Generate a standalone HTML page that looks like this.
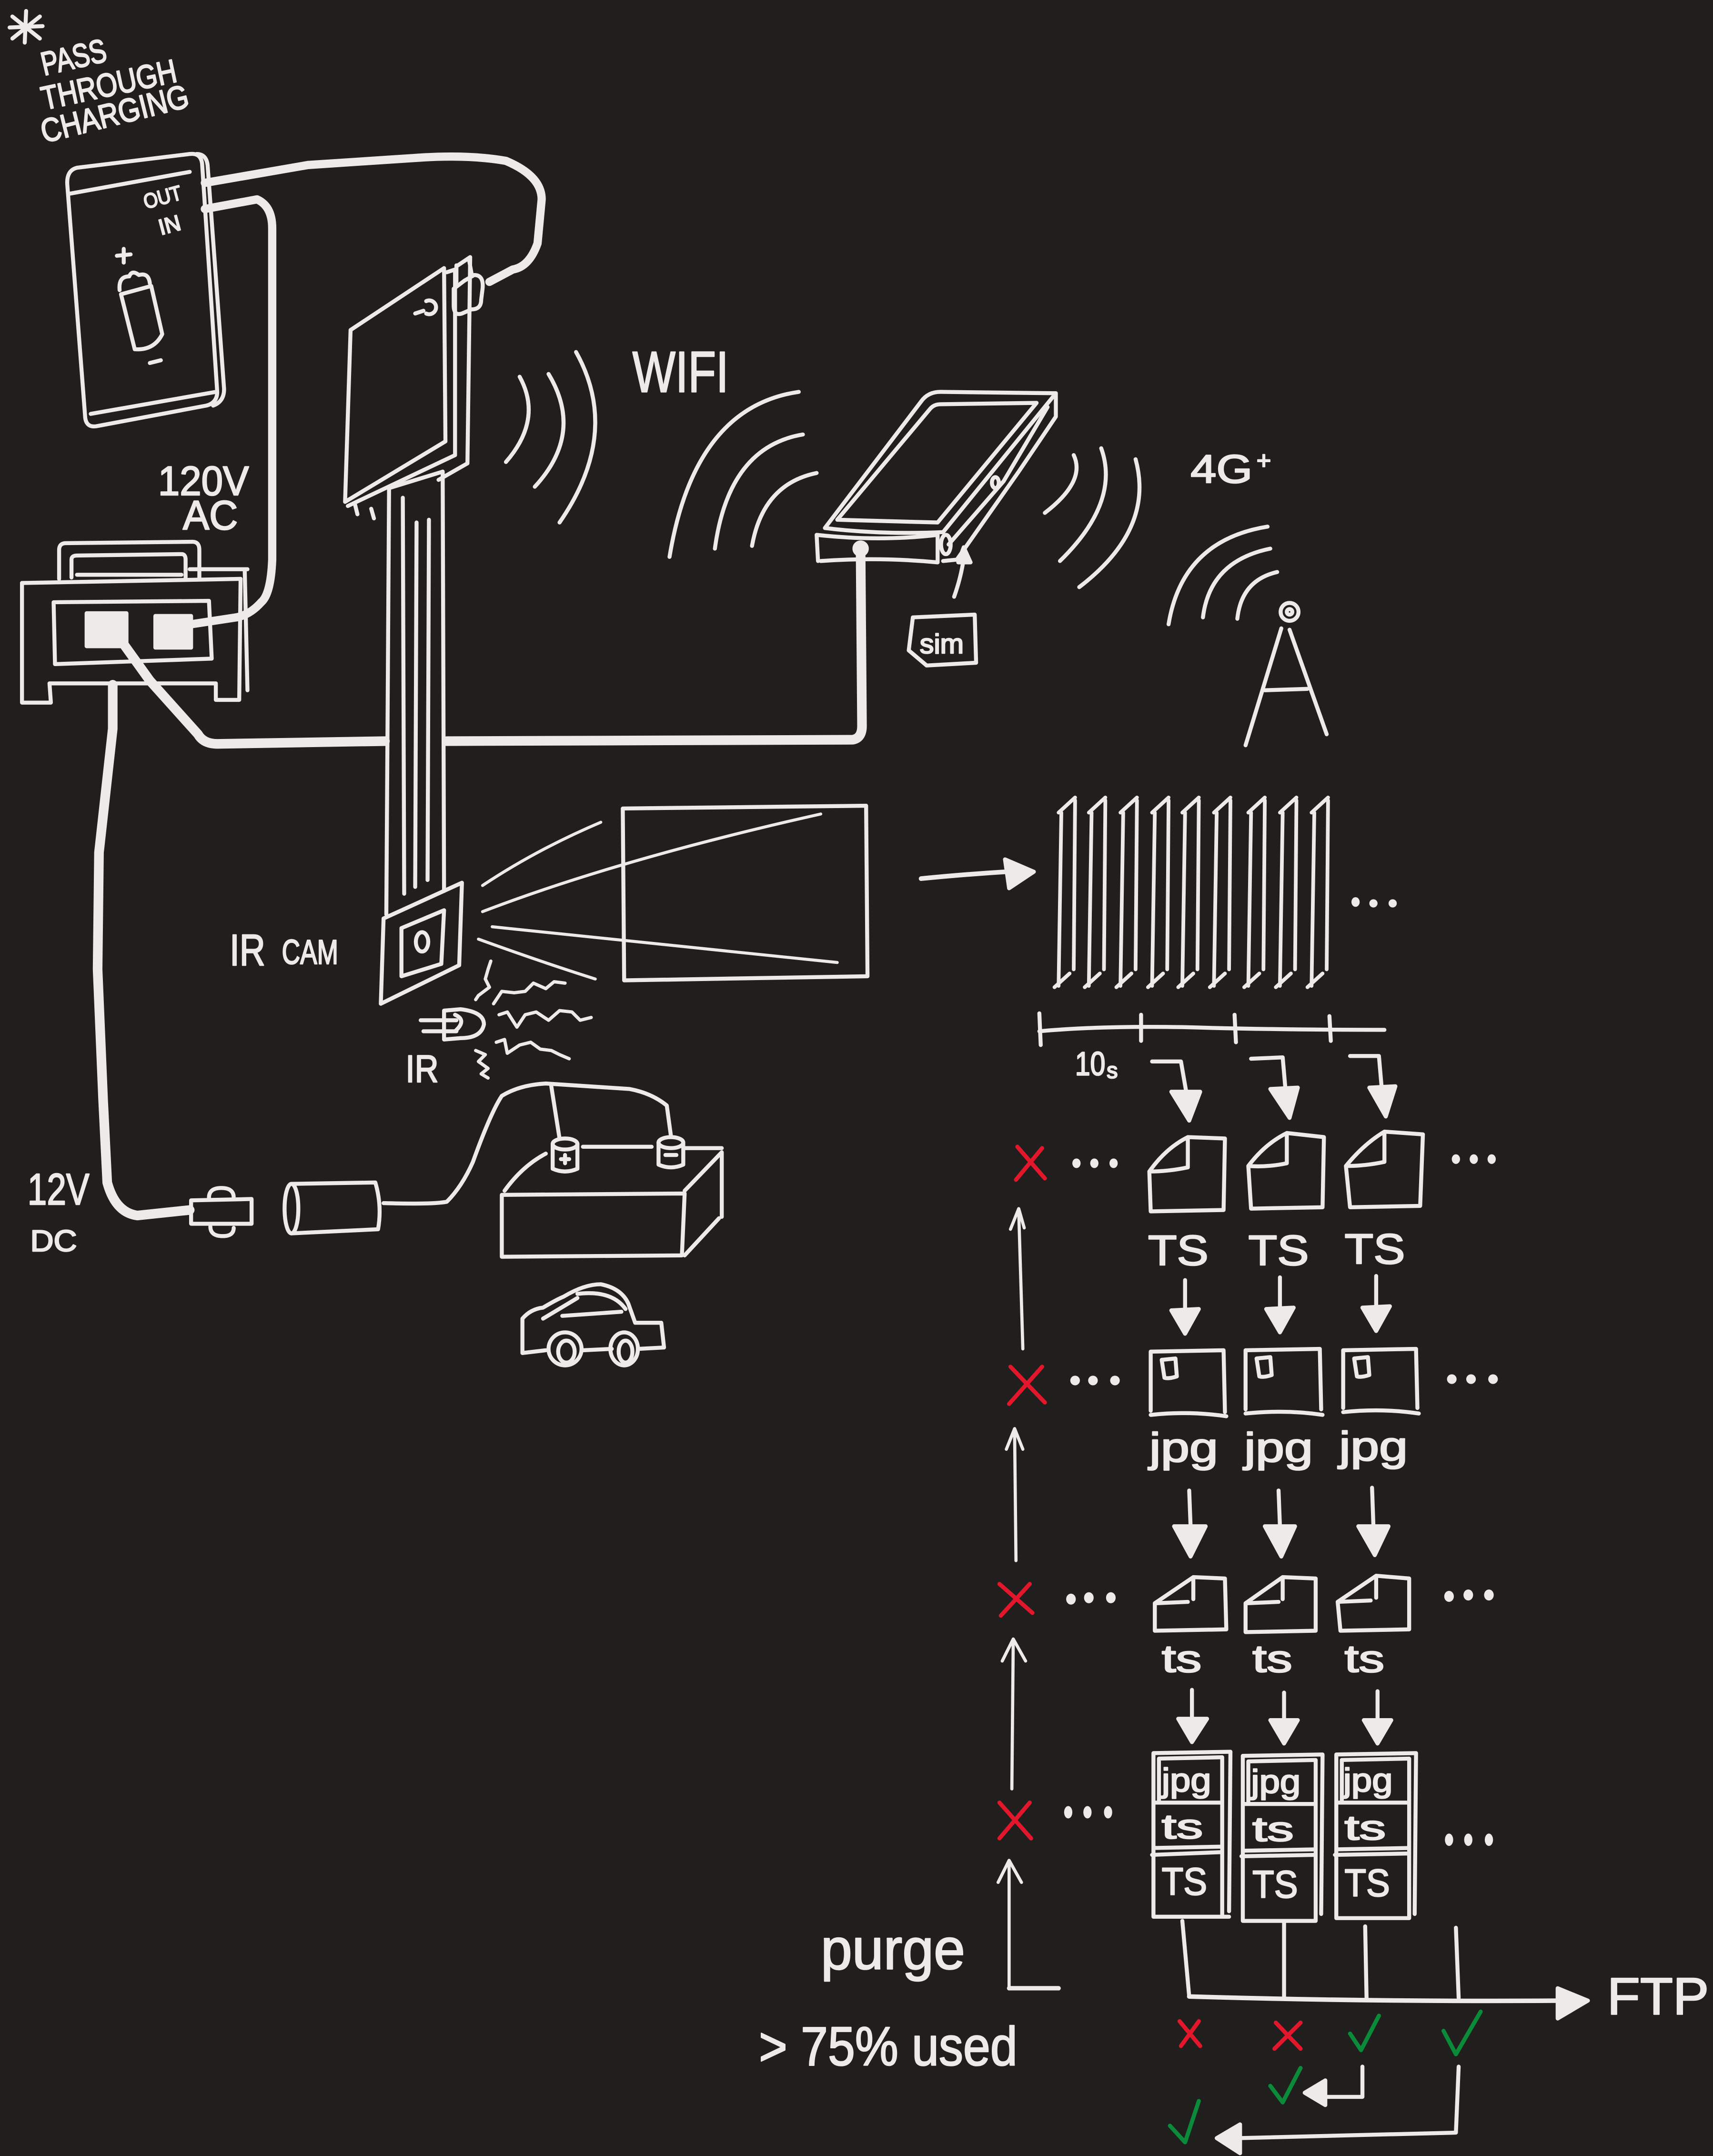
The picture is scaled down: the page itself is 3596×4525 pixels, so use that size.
<!DOCTYPE html>
<html><head><meta charset="utf-8"><style>
html,body{margin:0;padding:0;background:#201f1d;}
svg{display:block}
text{font-family:"Liberation Sans",sans-serif;fill:#ecebe7;stroke:#ecebe7;stroke-width:0.9;stroke-linejoin:round;}
</style></head><body>
<svg width="3596" height="4525" viewBox="0 0 1246 1568" preserveAspectRatio="none" xmlns="http://www.w3.org/2000/svg">
<rect width="1246" height="1568" fill="#201f1d"/>
<g fill="none" stroke="#ecebe7" stroke-width="2.9" stroke-linecap="round" stroke-linejoin="round">

<!-- asterisk -->
<path d="M19,8 L18,31 M9,12 L29,28 M29,12 L9,28 M7,20 L31,19"/>

<!-- power bank -->
<path d="M56,122 L138,112 Q146,111 147,119 L158,285 Q158,293 150,295 L70,310 Q63,311 62,304 L49,135 Q48,124 56,122 Z"/>
<path d="M143,112 Q150,112 151,120 L163,283 Q163,292 155,295"/>
<path d="M50,141 L138,125"/>
<path d="M66,301 L157,285"/>
<path d="M85,186 L95,185 M90,181 L90,191"/>
<path d="M88,214 L110,208 L118,243 Q112,255 98,254 Z"/>
<path d="M87,211 Q86,201 94,201 Q96,196 101,200 Q108,198 109,206"/>
<path d="M109,264 L117,262"/>

<!-- cables -->
<g stroke-width="6">
<path d="M149,133 L224,120 L300,115 Q340,112 368,117 Q394,128 394,145 L391,177 Q385,194 373,196 L356,205"/>
<path d="M149,152 L187,145 Q198,150 198,166 L198,407 Q197,432 190,438 Q182,447 172,449 L139,454"/>
</g>
<g stroke-width="7">
<path d="M86,463 L109,495 L144,534 Q148,541 158,541 L280,539"/>
<path d="M325,539 L620,538 Q627,537 627,528 L626,402"/>
<path d="M82,498 L82,530 L72,620 L71,705 L75,800 L78,860 Q84,882 100,884 L138,880"/>
</g>

<!-- power strip -->
<path d="M16,424 L175,421"/>
<path d="M16,424 L16,511 L37,511 L36,497 L157,497 L157,509 L174,509 L175,421"/>
<path d="M178,414 L180,502"/>
<path d="M138,414 L180,414"/>
<path d="M43,421 L43,400 Q43,395 48,395 L140,394 Q145,394 145,400 L145,421"/>
<path d="M52,420 L52,407 Q52,404 56,404 L132,403 Q135,403 135,407 L135,420"/>
<path d="M56,418 L132,418"/>
<path d="M39,438 L152,437 L154,479 L40,483 Z"/>
<rect x="63" y="446" width="29" height="24" fill="#ecebe7"/>
<rect x="113" y="448" width="26" height="23" fill="#ecebe7"/>

<!-- pi board -->
<path d="M255,240 L323,195 L324,321 L251,365 Z"/>
<path d="M325,198 L331,196 L331,331 L253,368"/>
<path d="M333,193 L342,187 L340,337 L319,349"/>
<path d="M258,366 L260,374 M270,370 L272,377"/>
<path d="M330,210 L338,204 L345,200 Q352,200 351,210 L350,218 Q350,225 343,225 L336,228 Q330,230 330,222 Z"/>
<path d="M332,193 L332,205 M341,188 L343,199"/>
<path d="M310,219 A5,5 0 1 1 310,228"/>
<path d="M302,228 L308,226"/>

<!-- ribbon -->
<path d="M283,355 L281,665"/>
<path d="M322,343 L323,648"/>
<path d="M293,362 L294,650 M303,380 L302,645 M312,378 L311,640"/>
<path d="M283,355 L322,343"/>

<!-- pi wifi arcs -->
<path d="M378,274 Q395,305 368,336"/>
<path d="M399,272 Q425,315 389,354"/>
<path d="M419,256 Q452,315 407,380"/>

<!-- router arcs -->
<path d="M581,285 Q505,296 487,405"/>
<path d="M584,316 Q530,325 520,399"/>
<path d="M594,344 Q555,352 547,397"/>

<!-- router -->
<path d="M600,384 L670,292 Q675,285 684,285 L768,286 L686,387 Q640,389 600,384 Z"/>
<path d="M609,378 L676,298 Q679,294 684,294 L754,293 L682,380 Z"/>
<path d="M594,389 Q640,394 682,389 M594,389 L595,408 M597,408 Q640,405 682,409 L682,389"/>
<path d="M768,286 L768,303 L741,343 L696,407 L686,408"/>
<path d="M762,296 L730,350 L690,396"/>
<ellipse cx="688" cy="396" rx="3.5" ry="7"/>
<ellipse cx="724" cy="351" rx="2.5" ry="4"/>
<circle cx="626" cy="399" r="4.5" fill="#ecebe7"/>
<path d="M694,434 Q699,420 701,406"/>
<polygon points="697,409 701,398 706,409" fill="#ecebe7"/>
<path d="M664,449 L709,447 L710,482 L674,484 L661,473 Z"/>

<!-- 4G arcs -->
<path d="M781,331 Q790,350 760,373"/>
<path d="M801,326 Q815,365 771,408"/>
<path d="M826,334 Q840,385 785,427"/>

<!-- tower -->
<path d="M922,383 Q860,393 850,454"/>
<path d="M924,399 Q880,408 875,449"/>
<path d="M929,416 Q903,422 900,450"/>
<circle cx="938" cy="445" r="6.5"/>
<circle cx="938" cy="445" r="2"/>
<path d="M932,457 L906,542 M938,458 L965,534 M920,502 L951,501"/>

<!-- camera -->
<path d="M279,668 L336,642 L334,702 L277,730 Z"/>
<path d="M292,675 L323,662 L321,701 L292,710 Z"/>
<ellipse cx="307" cy="685" rx="4.5" ry="7"/>
<g stroke-width="2.2">
<path d="M351,644 Q390,618 437,598"/>
<path d="M351,663 Q450,625 597,592"/>
<path d="M358,674 L609,700"/>
<path d="M348,683 Q395,700 433,712"/>
</g>
<path d="M453,588 L630,586 L631,710 L454,713 Z"/>

<!-- IR LED -->
<path d="M323,735 L335,734 Q352,736 352,745 Q350,755 335,755 L323,756 Z"/>
<path d="M306,742 L332,742 M308,750 L332,750"/>
<path d="M331,738 Q340,742 331,750"/>
<g stroke-width="2.4">
<path d="M357,699 L355,705 L353,712 L356,718 L348,724 L346,727"/>
<path d="M359,730 L365,721 L374,722 L382,721 L388,715 L397,719 L403,714 L411,715"/>
<path d="M363,738 L369,736 L376,747 L382,738 L390,736 L399,742 L407,735 L416,736 L422,742 L430,740"/>
<path d="M361,758 L367,756 L369,766 L378,760 L386,758 L393,763 L401,764 L407,767 L414,770"/>
<path d="M346,764 L353,767 L348,772 L355,777 L350,781 L355,784"/>
</g>

<!-- battery -->
<path d="M365,869 L498,868 L496,913 L365,914 Z"/>
<path d="M367,866 Q380,848 397,839"/>
<path d="M424,834 L474,834 M498,835 L525,835"/>
<path d="M525,838 L525,885 M498,866 L525,838 M498,913 L523,886"/>
<path d="M402,832 L402,850 Q411,854 420,850 L420,832"/>
<ellipse cx="411" cy="832" rx="9" ry="4"/>
<path d="M408,843 L414,843 M411,840 L411,846"/>
<path d="M479,831 L479,847 Q488,851 497,847 L497,831"/>
<ellipse cx="488" cy="831" rx="9" ry="4"/>
<path d="M484,840 L492,840"/>
<path d="M407,828 L401,790"/>
<path d="M397,788 L458,792 Q474,795 485,804 L488,826"/>
<path d="M397,788 Q378,789 365,797 Q357,809 344,845 Q336,863 325,874 Q315,876 279,875"/>
<!-- plug -->
<ellipse cx="212" cy="879" rx="5" ry="18"/>
<path d="M212,861 L273,860 Q278,877 275,894 L212,897"/>
<path d="M139,873 L183,872 L183,890 L139,890 Z"/>
<path d="M152,871 Q152,864 161,864 Q170,864 170,871"/>
<path d="M153,892 Q153,899 162,899 Q170,899 170,893"/>

<!-- car -->
<path d="M380,984 L380,959 Q386,952 395,951 Q405,945 410,943 Q425,934 437,934 Q452,937 457,948 L462,962 L481,962 L483,980 L464,981"/>
<path d="M397,982 L380,984"/>
<path d="M424,982 L445,981"/>
<path d="M395,959 L420,944 M409,957 L452,954 M420,941 Q445,938 455,952"/>
<ellipse cx="411" cy="981" rx="12" ry="12"/>
<ellipse cx="412" cy="983" rx="6" ry="8"/>
<ellipse cx="454" cy="981" rx="10" ry="12"/>
<ellipse cx="455" cy="983" rx="5" ry="8"/>

<!-- arrow to frames -->
<path d="M670,639 Q700,636 732,634" stroke-width="3.4"/>
<polygon points="731,625 752,634 734,646" fill="#ecebe7"/>

<!-- frames -->
<g stroke-width="2.7">
<path d="M772,591 L770,717 M770,591 L782,580 M782,582 L781,705 M767,718 L778,708"/>
<path d="M794,591 L792,717 M792,591 L804,580 M804,582 L803,705 M789,718 L800,708"/>
<path d="M817,591 L815,717 M815,591 L827,580 M827,582 L826,705 M812,718 L823,708"/>
<path d="M840,591 L838,717 M838,591 L850,580 M850,582 L849,705 M835,718 L846,708"/>
<path d="M862,591 L860,717 M860,591 L872,580 M872,582 L871,705 M857,718 L868,708"/>
<path d="M885,591 L883,717 M883,591 L895,580 M895,582 L894,705 M880,718 L891,708"/>
<path d="M910,591 L908,717 M908,591 L920,580 M920,582 L919,705 M905,718 L916,708"/>
<path d="M933,591 L931,717 M931,591 L943,580 M943,582 L942,705 M928,718 L939,708"/>
<path d="M956,591 L954,717 M954,591 L966,580 M966,582 L965,705 M951,718 L962,708"/>
</g>

<!-- timeline -->
<path d="M756,750 Q800,746 860,747 Q930,749 1007,749"/>
<path d="M756,737 L757,760 M830,738 L830,757 M898,738 L899,758 M967,739 L968,757"/>

<!-- bent arrows -->
<path d="M838,772 L859,772 L863,795"/>
<polygon points="852,794 873,794 865,815" fill="#ecebe7"/>
<path d="M910,770 L933,769 L935,792"/>
<polygon points="924,792 944,791 938,813" fill="#ecebe7"/>
<path d="M982,768 L1003,768 L1005,791"/>
<polygon points="996,791 1015,790 1008,812" fill="#ecebe7"/>

<!-- TS files -->
<path d="M836,852 Q848,835 864,827 L891,828 L890,880 L837,881 Z M864,827 L864,849 Q850,852 836,852"/>
<path d="M908,848 Q920,832 936,824 L963,827 L962,878 L910,879 Z M936,824 L936,846 Q922,849 908,848"/>
<path d="M979,848 Q992,832 1007,823 L1035,825 L1033,877 L982,878 Z M1007,823 L1007,845 Q993,848 979,848"/>

<!-- arrows TS->jpg -->
<path d="M862,931 L862,953 M931,929 L931,952 M1001,928 L1001,951"/>
<polygon points="852,953 872,952 862,970" fill="#ecebe7"/>
<polygon points="921,952 941,951 931,969" fill="#ecebe7"/>
<polygon points="991,951 1011,950 1001,968" fill="#ecebe7"/>

<!-- jpg boxes -->
<path d="M837,983 L890,982 L891,1027 M837,983 L837,1026 M837,1029 Q865,1026 892,1030"/>
<path d="M845,989 L855,988 L856,1001 Q850,1003 847,1002 Z"/>
<path d="M906,982 L960,981 L961,1025 M906,982 L906,1025 M906,1028 Q935,1025 962,1029"/>
<path d="M914,988 L924,987 L925,1000 Q919,1002 916,1001 Z"/>
<path d="M977,982 L1030,981 L1031,1024 M977,982 L977,1024 M977,1027 Q1005,1024 1032,1028"/>
<path d="M985,988 L995,987 L996,1000 Q990,1002 987,1001 Z"/>

<!-- arrows jpg->ts -->
<path d="M865,1084 L866,1110 M930,1084 L931,1110 M998,1082 L999,1110"/>
<polygon points="854,1110 877,1110 866,1132" fill="#ecebe7"/>
<polygon points="920,1110 942,1110 932,1132" fill="#ecebe7"/>
<polygon points="988,1110 1010,1110 1000,1131" fill="#ecebe7"/>

<!-- ts files -->
<path d="M840,1166 L868,1147 L891,1148 L892,1185 L840,1186 Z M868,1147 L868,1163 M840,1166 L864,1165"/>
<path d="M906,1166 L933,1147 L957,1148 L957,1186 L906,1187 Z M933,1147 L933,1163 M906,1166 L930,1165"/>
<path d="M973,1165 L1001,1146 L1025,1148 L1025,1185 L975,1186 Z M1001,1146 L1001,1162 M973,1165 L997,1164"/>

<!-- arrows ts->stack -->
<path d="M867,1229 L867,1250 M934,1231 L934,1251 M1002,1230 L1002,1251"/>
<polygon points="857,1250 878,1250 867,1267" fill="#ecebe7"/>
<polygon points="924,1251 944,1251 934,1268" fill="#ecebe7"/>
<polygon points="992,1251 1012,1251 1002,1268" fill="#ecebe7"/>

<!-- stacked boxes -->
<path d="M839,1275 L895,1274 L894,1390 M839,1275 L839,1394 L894,1394 M843,1279 L889,1278 L889,1394 M843,1279 L843,1311 M839,1311 L889,1311 M839,1344 L889,1343 M838,1349 L889,1347"/>
<path d="M904,1277 L962,1276 L961,1392 M904,1277 L904,1397 L957,1397 M908,1281 L957,1280 L957,1397 M908,1281 L908,1312 M904,1312 L957,1312 M904,1346 L957,1345 M903,1350 L957,1349"/>
<path d="M972,1276 L1030,1275 L1029,1392 M972,1276 L972,1395 L1025,1395 M976,1280 L1025,1279 L1025,1395 M976,1280 L976,1311 M972,1311 L1025,1311 M972,1345 L1025,1344 M971,1349 L1025,1348"/>

<!-- bottom FTP lines -->
<path d="M860,1397 L865,1452 M934,1398 L934,1452 M993,1401 L994,1453 M1059,1402 L1061,1453"/>
<path d="M865,1452 Q1000,1456 1138,1455" stroke-width="3.3"/>
<polygon points="1133,1446 1155,1455 1133,1468" fill="#ecebe7"/>

<!-- return arrows -->
<path d="M991,1503 L991,1525 L964,1525"/>
<polygon points="949,1522 964,1513 964,1531" fill="#ecebe7"/>
<path d="M1061,1503 L1059,1551 L902,1555"/>
<polygon points="885,1555 902,1545 902,1566" fill="#ecebe7"/>

<!-- up arrows (purge) -->
<g stroke-width="2.3">
<path d="M744,981 L741,881 M735,894 L741,879 L745,893"/>
<path d="M739,1135 L738,1041 M732,1054 L738,1039 L744,1054"/>
<path d="M736,1301 L737,1194 M729,1208 L737,1192 L746,1208"/>
<path d="M734,1446 L734,1355 M726,1369 L734,1353 L743,1369"/>
</g>
<path d="M734,1446 L770,1446" stroke-width="3.2"/>
</g>

<!-- dots -->
<g fill="#ecebe7">
<ellipse cx="986" cy="656" rx="3" ry="3.5"/><ellipse cx="999" cy="657" rx="3" ry="3"/><ellipse cx="1013" cy="657" rx="3" ry="3"/>
<ellipse cx="783" cy="846" rx="3" ry="3.5"/><ellipse cx="796" cy="846" rx="3" ry="3.5"/><ellipse cx="810" cy="846" rx="3" ry="3.5"/>
<ellipse cx="1059" cy="843" rx="3" ry="3.5"/><ellipse cx="1072" cy="843" rx="3" ry="3.5"/><ellipse cx="1085" cy="843" rx="3" ry="3.5"/>
<ellipse cx="782" cy="1004" rx="3.5" ry="3.5"/><ellipse cx="795" cy="1004" rx="3.5" ry="3.5"/><ellipse cx="811" cy="1004" rx="3.5" ry="3.5"/>
<ellipse cx="1056" cy="1003" rx="3.5" ry="3.5"/><ellipse cx="1070" cy="1003" rx="3.5" ry="3.5"/><ellipse cx="1086" cy="1003" rx="3.5" ry="3.5"/>
<ellipse cx="779" cy="1163" rx="3.5" ry="4"/><ellipse cx="792" cy="1162" rx="3.5" ry="4"/><ellipse cx="808" cy="1162" rx="3.5" ry="4"/>
<ellipse cx="1054" cy="1161" rx="3.5" ry="4"/><ellipse cx="1068" cy="1160" rx="3.5" ry="4"/><ellipse cx="1083" cy="1160" rx="3.5" ry="4"/>
<ellipse cx="777" cy="1318" rx="3" ry="4.5"/><ellipse cx="791" cy="1318" rx="3" ry="4.5"/><ellipse cx="806" cy="1318" rx="3" ry="4.5"/>
<ellipse cx="1054" cy="1338" rx="3" ry="4.5"/><ellipse cx="1068" cy="1338" rx="3" ry="4.5"/><ellipse cx="1083" cy="1338" rx="3" ry="4.5"/>
</g>

<!-- red X marks -->
<g fill="none" stroke="#e3172b" stroke-width="3" stroke-linecap="round">
<path d="M740,834 L760,857 M758,835 L739,858"/>
<path d="M735,994 L760,1020 M758,994 L734,1021"/>
<path d="M727,1152 L751,1173 M749,1152 L728,1175"/>
<path d="M727,1311 L750,1337 M749,1311 L727,1337"/>
<path d="M858,1470 L873,1488 M872,1470 L859,1488"/>
<path d="M928,1471 L946,1490 M946,1471 L927,1490"/>
</g>
<!-- green checks -->
<g fill="none" stroke="#0b8a3a" stroke-width="3" stroke-linecap="round" stroke-linejoin="round">
<path d="M982,1479 L990,1491 L1003,1466"/>
<path d="M1050,1477 L1059,1494 L1077,1463"/>
<path d="M924,1517 L933,1529 L946,1504"/>
<path d="M851,1546 L862,1558 L872,1528"/>
</g>

<!-- texts -->
<text x="32" y="55" font-size="24" transform="rotate(-13 32 55)" textLength="48" lengthAdjust="spacingAndGlyphs">PASS</text>
<text x="32" y="80" font-size="24" transform="rotate(-12 32 80)" textLength="100" lengthAdjust="spacingAndGlyphs">THROUGH</text>
<text x="32" y="104" font-size="24" transform="rotate(-14 32 104)" textLength="110" lengthAdjust="spacingAndGlyphs">CHARGING</text>
<text x="106" y="152" font-size="15" transform="rotate(-15 106 152)" textLength="28" lengthAdjust="spacingAndGlyphs">OUT</text>
<text x="117" y="171" font-size="16" transform="rotate(-15 117 171)" textLength="16" lengthAdjust="spacingAndGlyphs">IN</text>
<text x="115" y="360" font-size="30" textLength="66" lengthAdjust="spacingAndGlyphs">120V</text>
<text x="133" y="385" font-size="30" textLength="40" lengthAdjust="spacingAndGlyphs">AC</text>
<text x="460" y="285" font-size="42" textLength="70" lengthAdjust="spacingAndGlyphs">WIFI</text>
<text x="866" y="351" font-size="29" textLength="45" lengthAdjust="spacingAndGlyphs">4G</text>
<text x="914" y="341" font-size="18">+</text>
<text x="669" y="475" font-size="20" textLength="32" lengthAdjust="spacingAndGlyphs">sim</text>
<text x="167" y="702" font-size="32" textLength="26" lengthAdjust="spacingAndGlyphs">IR</text>
<text x="205" y="701" font-size="25" textLength="41" lengthAdjust="spacingAndGlyphs">CAM</text>
<text x="295" y="787" font-size="28" textLength="24" lengthAdjust="spacingAndGlyphs">IR</text>
<text x="20" y="876" font-size="32" textLength="45" lengthAdjust="spacingAndGlyphs">12V</text>
<text x="22" y="910" font-size="22" textLength="34" lengthAdjust="spacingAndGlyphs">DC</text>
<text x="782" y="782" font-size="24" textLength="22" lengthAdjust="spacingAndGlyphs">10</text>
<text x="805" y="784" font-size="16">s</text>
<text x="835" y="920" font-size="31" textLength="44" lengthAdjust="spacingAndGlyphs">TS</text>
<text x="908" y="920" font-size="31" textLength="44" lengthAdjust="spacingAndGlyphs">TS</text>
<text x="978" y="919" font-size="31" textLength="44" lengthAdjust="spacingAndGlyphs">TS</text>
<text x="836" y="1063" font-size="30" textLength="50" lengthAdjust="spacingAndGlyphs">jpg</text>
<text x="905" y="1063" font-size="30" textLength="50" lengthAdjust="spacingAndGlyphs">jpg</text>
<text x="974" y="1062" font-size="30" textLength="50" lengthAdjust="spacingAndGlyphs">jpg</text>
<text x="845" y="1216" font-size="28" textLength="29" lengthAdjust="spacingAndGlyphs">ts</text>
<text x="911" y="1216" font-size="28" textLength="29" lengthAdjust="spacingAndGlyphs">ts</text>
<text x="978" y="1216" font-size="28" textLength="29" lengthAdjust="spacingAndGlyphs">ts</text>
<text x="845" y="1303" font-size="24" textLength="36" lengthAdjust="spacingAndGlyphs">jpg</text>
<text x="845" y="1337" font-size="25" textLength="30" lengthAdjust="spacingAndGlyphs">ts</text>
<text x="845" y="1378" font-size="28" textLength="33" lengthAdjust="spacingAndGlyphs">TS</text>
<text x="910" y="1304" font-size="24" textLength="36" lengthAdjust="spacingAndGlyphs">jpg</text>
<text x="911" y="1339" font-size="25" textLength="30" lengthAdjust="spacingAndGlyphs">ts</text>
<text x="911" y="1380" font-size="28" textLength="33" lengthAdjust="spacingAndGlyphs">TS</text>
<text x="977" y="1303" font-size="24" textLength="36" lengthAdjust="spacingAndGlyphs">jpg</text>
<text x="978" y="1338" font-size="25" textLength="30" lengthAdjust="spacingAndGlyphs">ts</text>
<text x="978" y="1379" font-size="28" textLength="33" lengthAdjust="spacingAndGlyphs">TS</text>
<text x="597" y="1432" font-size="42" textLength="105" lengthAdjust="spacingAndGlyphs">purge</text>
<text x="552" y="1502" font-size="40" textLength="188" lengthAdjust="spacingAndGlyphs">&gt; 75% used</text>
<text x="1169" y="1465" font-size="38" textLength="74" lengthAdjust="spacingAndGlyphs">FTP</text>
</svg>
</body></html>
